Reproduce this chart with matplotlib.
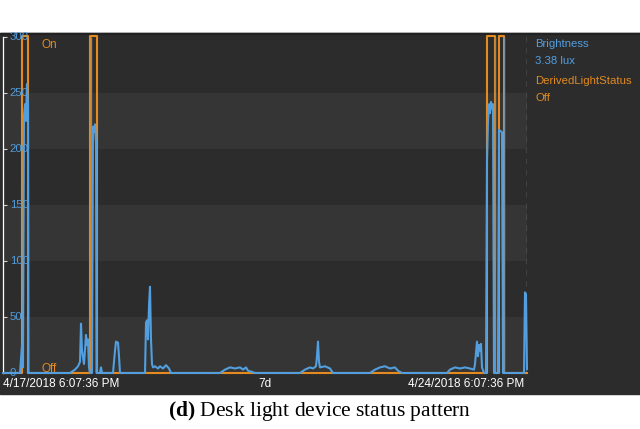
import numpy as np
import matplotlib.pyplot as plt
from matplotlib.patches import Rectangle

# brightness samples (hours since 4/17/2018 6:07:36 PM, lux)
bright_t = [0, 5.45, 6.09, 6.41, 6.73, 7.05, 7.37, 7.69, 8.02, 8.18,
            21.48, 23.08, 24.05, 24.69, 25.01, 25.33, 25.97, 26.61, 26.93, 27.25, 27.57, 27.89,
            28.53, 28.85, 29.17, 29.50, 29.82, 29.98,
            31.10, 31.42, 31.74,
            35.27, 35.91, 36.23, 36.87, 37.19, 37.51,
            45.53, 45.85, 46.17, 46.49, 46.81, 47.13, 47.45, 47.77, 48.09, 48.73, 49.69,
            50.34, 51.30, 52.26, 53.22, 53.86,
            69.57, 71.18, 72.78, 74.38, 75.99, 76.95, 77.91, 78.55, 79.84, 80.79,
            95.22, 96.82, 98.43, 99.39, 100.35, 100.67, 100.99, 101.31, 101.63, 103.24, 104.84, 105.80,
            117.66, 119.27, 120.87, 122.47, 124.08, 125.68, 126.64, 127.92,
            142.35, 143.31, 144.92, 146.52, 148.12, 149.73, 151.01, 151.33, 151.97, 152.29,
            152.61, 152.93, 153.25, 153.57, 154.21,
            154.85, 155.18, 155.50, 155.82, 156.14, 156.46, 156.78, 157.10, 157.42,
            158.70, 159.02, 159.98, 160.31,
            167.04, 167.36, 167.68, 168.0]
bright_v = [0, 0, 25, 5, 230, 240, 225, 258, 240, 0,
            0, 3, 6, 10, 44, 20, 8, 34, 25, 30, 5, 0,
            0, 220, 215, 222, 205, 0,
            0, 5, 0,
            0, 20, 28, 27, 15, 0,
            0, 45, 47, 30, 60, 77, 30, 8, 5, 6, 4,
            6, 4, 7, 4, 0,
            0, 3, 5, 4, 5, 3, 5, 2, 1, 0,
            0, 3, 5, 4, 6, 15, 28, 10, 5, 6, 4, 0,
            0, 3, 5, 6, 4, 5, 2, 0,
            0, 3, 5, 4, 5, 4, 3, 8, 28, 15,
            25, 20, 26, 5, 0,
            0, 190, 225, 240, 232, 242, 236, 240, 0,
            0, 217, 215, 0,
            0, 72, 70, 3.38]

# light status: intervals when the light was "On" (hours)
on_start = [6.09, 28.05, 155.18, 159.18]
on_end = [8.02, 29.98, 157.74, 160.47]
# gaps in the sensor stream (hours)
gap_t = [28.2, 157.6, 160.6]

y_ticks = [0, 50, 100, 150, 200, 250, 300]
start_label = "4/17/2018 6:07:36 PM"
end_label = "4/24/2018 6:07:36 PM"
span_label = "7d"

BLUE = "#529ede"
ORANGE = "#e38a20"
PANEL = "#2c2c2c"
BAND = "#353535"
ON_LEVEL = 300.5

plt.rcParams['font.family'] = ['Liberation Sans', 'DejaVu Sans']
plt.rcParams['mathtext.fontset'] = 'custom'
plt.rcParams['mathtext.rm'] = 'Liberation Serif'
plt.rcParams['mathtext.bf'] = 'Liberation Serif:bold'

W, H = 640, 429
fig = plt.figure(figsize=(W / 100, H / 100), dpi=100)

# dark panel behind the chart
fig.patches.append(Rectangle((0, 1 - 394 / H), 1, (394 - 33) / H, transform=fig.transFigure,
                             color=PANEL, zorder=-5))
fig.patches.append(Rectangle((0, 1 - 34 / H), 1, 1 / H, transform=fig.transFigure,
                             color="#222222", zorder=-5))

ax = fig.add_axes([3 / W, 1 - 375 / H, 524 / W, 340 / H])
ax.set_facecolor("none")
ax.set_xlim(0, 168)
ax.set_ylim(-1.8, 301.8)
for lo in [0, 100, 200]:
    ax.axhspan(lo, lo + 50, color=BAND, lw=0, zorder=0)

# status step line
st_t = [0]
st_v = [0]
for a, b in zip(on_start, on_end):
    st_t += [a, a, b, b]
    st_v += [0, ON_LEVEL, ON_LEVEL, 0]
st_t.append(168)
st_v.append(0)
ax.plot(st_t, st_v, color=ORANGE, lw=1.5, zorder=2, clip_on=False)

ax.vlines(gap_t, 0, 300, color="#7d8f9f", lw=1.0, zorder=3)
ax.plot(bright_t, bright_v, color=BLUE, lw=1.5, zorder=4, clip_on=False)

ax.axvline(168, color="#9a9a9a", lw=1.0, ls=(0, (4, 4)), zorder=1)

for s in ax.spines.values():
    s.set_visible(False)
ax.spines['left'].set_visible(True)
ax.spines['left'].set_color("white")
ax.spines['left'].set_bounds(0, 300)
ax.spines['left'].set_linewidth(0.9)
ax.set_xticks([])
ax.set_yticks(y_ticks)
ax.tick_params(axis='y', direction='in', length=3, color="#d0d0d0", labelleft=False)
for v in y_ticks:
    ax.text(2.2, v, str(v), color=BLUE, fontsize=8.2, va='center', ha='left', zorder=6)

ax.text(12.3, 293, "On", color=ORANGE, fontsize=8.5, va='center', ha='left', zorder=6)
ax.text(12.3, 4, "Off", color=ORANGE, fontsize=8.5, va='center', ha='left', zorder=6)

# legend on the right
lx = 535 / W
for txt, y, c in [("Brightness", 44, BLUE), ("3.38 lux", 61, BLUE),
                  ("DerivedLightStatus", 81, ORANGE), ("Off", 98, ORANGE)]:
    fig.text(lx, 1 - y / H, txt, color=c, fontsize=8.2, va='center', ha='left')

# time labels
fig.text(3 / W, 1 - 384 / H, start_label, color="white", fontsize=8.5, va='center', ha='left')
fig.text(265 / W, 1 - 384 / H, span_label, color="white", fontsize=8.5, va='center', ha='center')
fig.text(524 / W, 1 - 384 / H, end_label, color="white", fontsize=8.5, va='center', ha='right')

# caption
fig.text(0.5, 1 - 411 / H, r"$\mathbf{(d)}$ Desk light device status pattern", fontsize=15.5,
         family=['Liberation Serif', 'DejaVu Serif'], va='center', ha='center')

fig.savefig("out.png", dpi=100)
